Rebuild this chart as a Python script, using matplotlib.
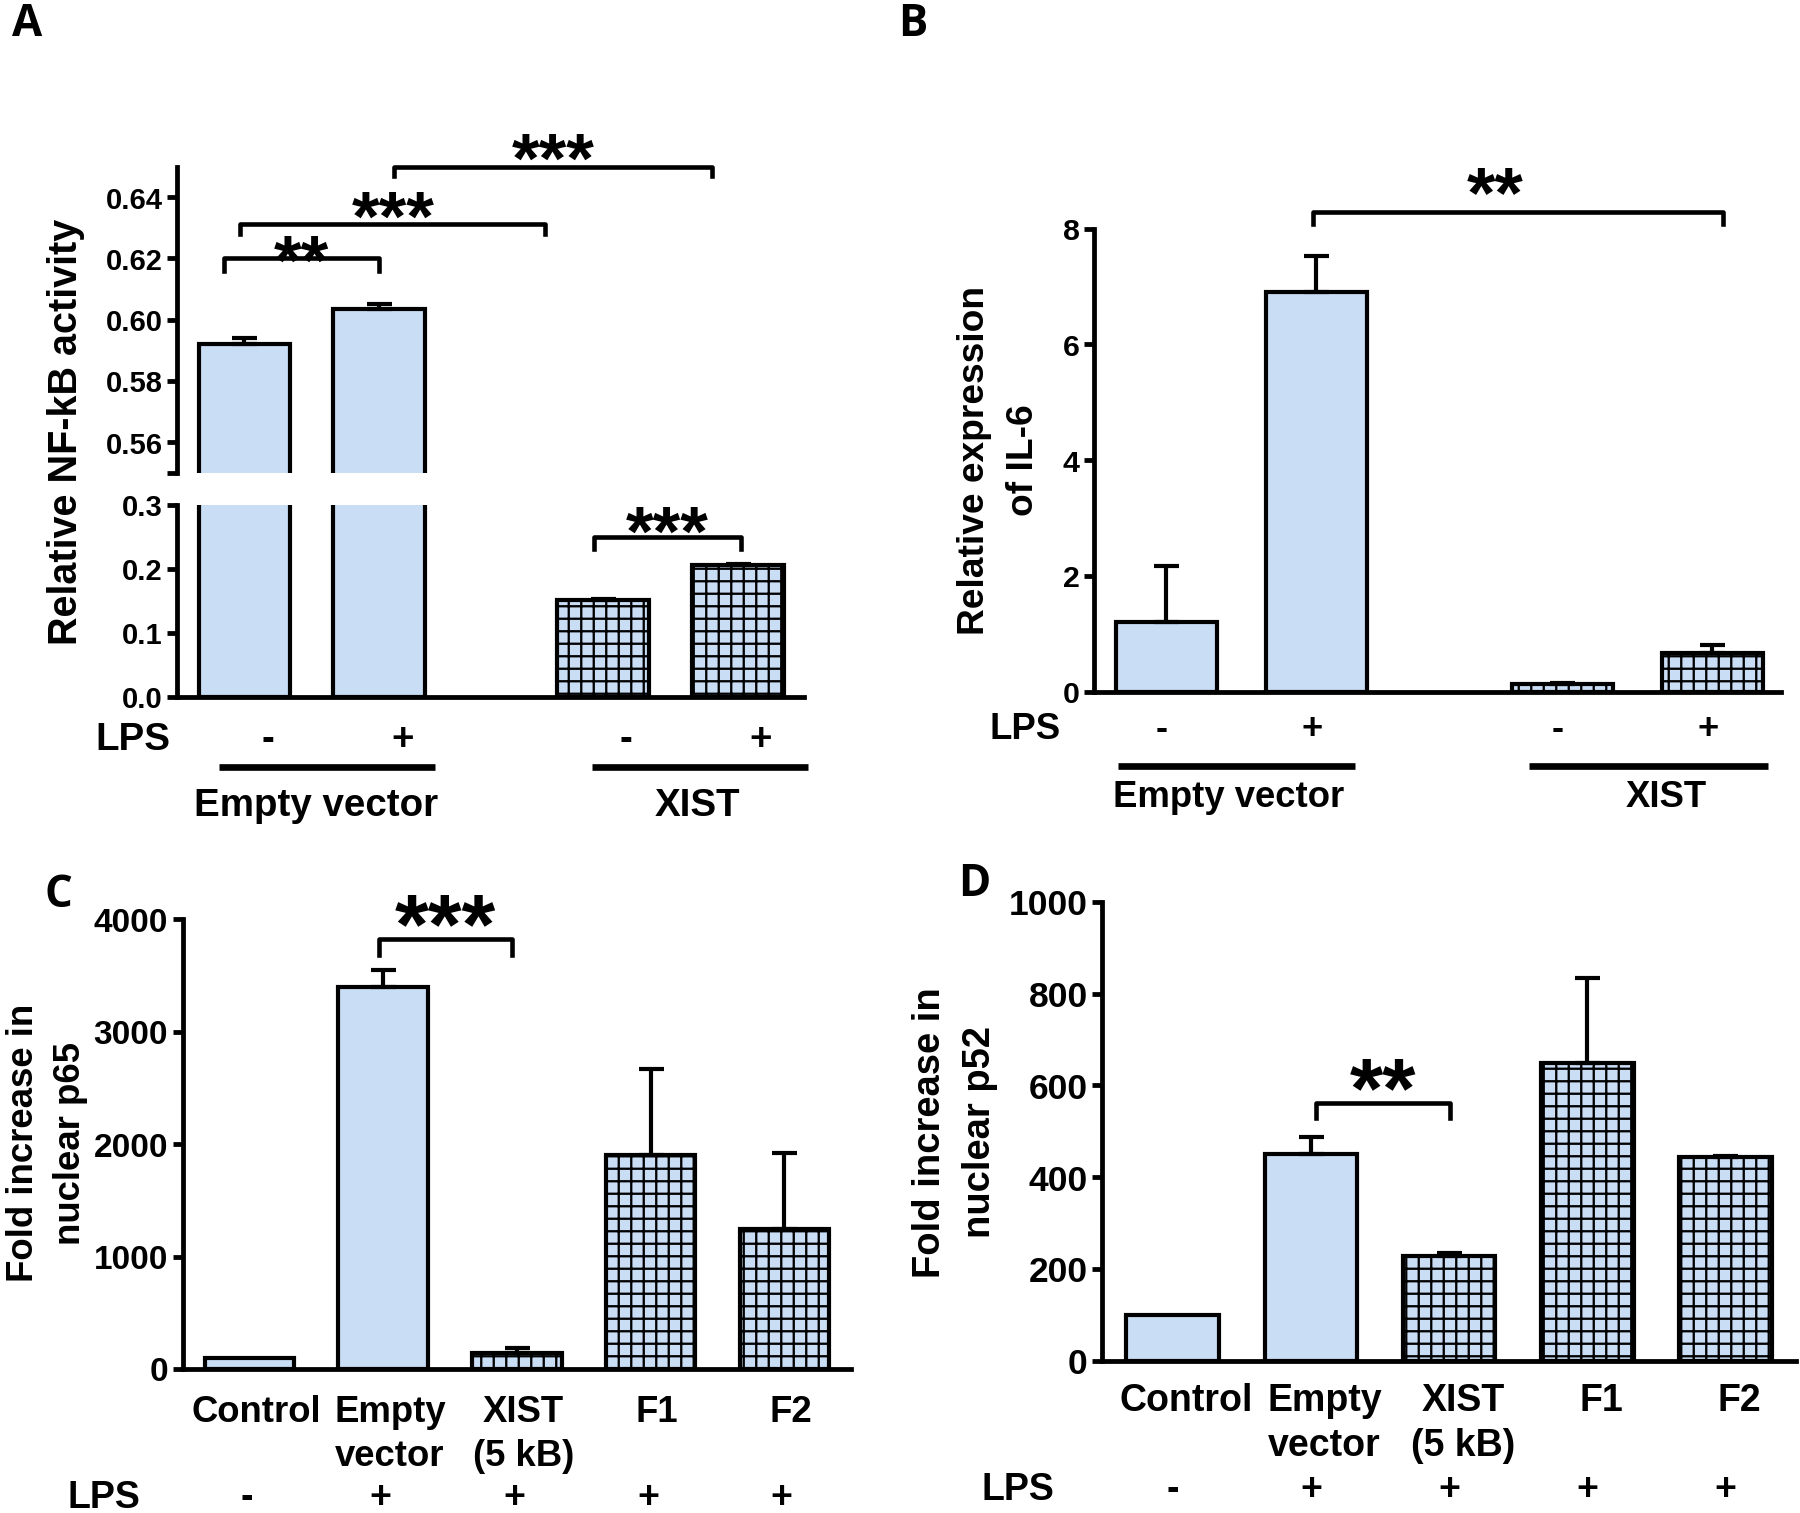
import numpy as np
import matplotlib
matplotlib.use('Agg')
import matplotlib.pyplot as plt
from matplotlib.transforms import blended_transform_factory

'''Fonts and global style'''
plt.rcParams['font.family'] = ['Liberation Sans', 'DejaVu Sans']
plt.rcParams['font.weight'] = 'bold'
plt.rcParams['hatch.linewidth'] = 1.1

W, H, DPI = 1800, 1513, 150
BLUE = '#c9ddf5'
LW = 2.0          # bar edge / error bar width (pt)
SPINE = 2.3

'''Panel A: NF-kB activity (broken axis)'''
a_pos = [0, 1, 2.66, 3.66]
a_vals = [0.592, 0.6035, 0.151, 0.2065]
a_err = [0.0021, 0.0017, 0.0012, 0.0012]
a_hatch = [False, False, True, True]
lps_ab = ['-', '+', '-', '+']
groups = ['Empty vector', 'XIST']

'''Panel B: IL-6 expression'''
b_pos = [0, 1, 2.64, 3.64]
b_vals = [1.2, 6.9, 0.14, 0.67]
b_err = [0.97, 0.63, 0.02, 0.14]
b_hatch = [False, False, True, True]

'''Panels C and D: nuclear p65 / p52'''
cd_pos = [0, 1, 2, 3, 4]
cd_labels = ['Control', 'Empty\nvector', 'XIST\n(5 kB)', 'F1', 'F2']
lps_cd = ['-', '+', '+', '+', '+']
cd_hatch = [False, False, True, True, True]
c_vals = [100, 3400, 140, 1905, 1245]
c_err = [0, 150, 45, 760, 680]
d_vals = [100, 450, 227, 650, 443]
d_err = [0, 37, 8, 185, 4]


def px_axes(left, top, right, bottom):
    '''Axes rectangle from pixel edges'''
    return fig.add_axes([left / W, 1 - bottom / H, (right - left) / W, (bottom - top) / H])


def draw_bars(ax, pos, vals, errs, hatch, width):
    for x, v, e, h in zip(pos, vals, errs, hatch):
        ax.bar(x, v, width, color=BLUE, edgecolor='black', linewidth=LW,
               hatch='++' if h else None, zorder=2)
        if e > 0:
            ax.errorbar(x, v, yerr=[[0], [e]], color='black', elinewidth=LW,
                        capsize=6, capthick=LW, zorder=3)


def style(ax, fs, bottom=True):
    for s in ['top', 'right']:
        ax.spines[s].set_visible(False)
    ax.spines['left'].set_linewidth(SPINE)
    ax.spines['bottom'].set_linewidth(SPINE)
    ax.spines['bottom'].set_visible(bottom)
    ax.tick_params(axis='y', width=SPINE, length=5, pad=2, labelsize=fs)
    ax.tick_params(axis='x', length=0, labelbottom=False)


def bracket(ax, x1, x2, y, leg, stars, fs, gap_px, tx=None):
    ax.plot([x1, x1, x2, x2], [y - leg, y, y, y - leg], color='black', lw=2.2,
            clip_on=False, zorder=4)
    tx = (x1 + x2) / 2 if tx is None else tx
    off = gap_px * 72 / DPI - 0.48 * fs
    ax.annotate(stars, xy=(tx, y), xytext=(0, off), textcoords='offset points',
                ha='center', va='baseline', fontsize=fs, fontweight='bold',
                annotation_clip=False)


def text_row(ax, xs, labels, y, fs, va='center', ls=1.2):
    tr = blended_transform_factory(ax.transData, ax.transAxes)
    for x, s in zip(xs, labels):
        ax.text(x, y, s, transform=tr, ha='center', va=va, fontsize=fs,
                fontweight='bold', linespacing=ls, clip_on=False)


def group_line(ax, x1, x2, y, lw=3.2):
    tr = blended_transform_factory(ax.transData, ax.transAxes)
    ax.plot([x1, x2], [y, y], color='black', lw=lw, transform=tr, clip_on=False,
            solid_capstyle='butt')


fig = plt.figure(figsize=((W + 0.4) / DPI, (H + 0.4) / DPI), dpi=DPI)

'''Panel A'''
axA_top = px_axes(177, 167, 804, 473)
axA_bot = px_axes(177, 505, 804, 697)
for ax in (axA_top, axA_bot):
    draw_bars(ax, a_pos, a_vals, a_err, a_hatch, 0.68)
    ax.set_xlim(-0.5, 4.15)
axA_top.set_ylim(0.55, 0.65)
axA_bot.set_ylim(0, 0.3)
style(axA_top, 14, bottom=False)
style(axA_bot, 14)
axA_top.set_yticks([0.55, 0.56, 0.58, 0.60, 0.62, 0.64])
axA_top.set_yticklabels(['', '0.56', '0.58', '0.60', '0.62', '0.64'])
axA_bot.set_yticks([0, 0.1, 0.2, 0.3])
axA_bot.set_yticklabels(['0.0', '0.1', '0.2', '0.3'])

bracket(axA_top, -0.15, 1.0, 0.62, 0.0042, '**', 34, 8)
bracket(axA_top, -0.03, 2.23, 0.6313, 0.0033, '***', 34, 18)
bracket(axA_top, 1.11, 3.47, 0.65, 0.0031, '***', 34, 18)
bracket(axA_bot, 2.59, 3.68, 0.25, 0.019, '***', 34, 15)

text_row(axA_bot, [-0.83], ['LPS'], -0.225, 18.5)
text_row(axA_bot, [p + 0.17 for p in a_pos], lps_ab, -0.225, 18.5)
group_line(axA_bot, -0.19, 1.41, -0.364)
group_line(axA_bot, 2.58, 4.18, -0.364)
text_row(axA_bot, [0.53, 3.36], groups, -0.566, 18.5)
fig.text(66 / W, 1 - 432 / H, 'Relative NF-kB activity', rotation=90,
         ha='center', va='center', fontsize=19, fontweight='bold')

'''Panel B'''
axB = px_axes(1094, 229, 1781, 692)
draw_bars(axB, b_pos, b_vals, b_err, b_hatch, 0.67)
axB.set_xlim(-0.48, 4.10)
axB.set_ylim(0, 8)
style(axB, 14.5)
axB.set_yticks([0, 2, 4, 6, 8])
bracket(axB, 0.977, 3.71, 8.29, 0.207, '**', 35, 30, tx=2.19)
text_row(axB, [-0.94], ['LPS'], -0.081, 17.5)
text_row(axB, [p - 0.03 for p in b_pos], lps_ab, -0.081, 17.5)
group_line(axB, -0.32, 1.26, -0.160)
group_line(axB, 2.42, 4.01, -0.160)
text_row(axB, [0.415, 3.33], groups, -0.228, 17.5)
fig.text(999 / W, 1 - 460 / H, 'Relative expression\nof IL-6', rotation=90,
         ha='center', va='center', fontsize=17.8, fontweight='bold',
         linespacing=1.5)

'''Panel C'''
axC = px_axes(182.5, 919.4, 851, 1369)
draw_bars(axC, cd_pos, c_vals, c_err, cd_hatch, 0.67)
axC.set_xlim(-0.5, 4.5)
axC.set_ylim(0, 4000)
style(axC, 16)
axC.set_yticks([0, 1000, 2000, 3000, 4000])
bracket(axC, 0.97, 1.96, 3820, 137, '***', 41.5, 28)
text_row(axC, [p + 0.05 for p in cd_pos], cd_labels, -0.058, 17.5, va='top', ls=1.32)
text_row(axC, [-1.09], ['LPS'], -0.285, 18)
text_row(axC, [p - 0.02 for p in cd_pos], lps_cd, -0.285, 18)
fig.text(47 / W, 1 - 1143 / H, 'Fold increase in\nnuclear p65', rotation=90,
         ha='center', va='center', fontsize=17.6, fontweight='bold',
         linespacing=1.42)

'''Panel D'''
axD = px_axes(1102, 902.2, 1795.5, 1360.6)
draw_bars(axD, cd_pos, d_vals, d_err, cd_hatch, 0.67)
axD.set_xlim(-0.51, 4.51)
axD.set_ylim(0, 1000)
style(axD, 17)
axD.set_yticks([0, 200, 400, 600, 800, 1000])
bracket(axD, 1.04, 2.01, 562, 33, '**', 41, 27)
text_row(axD, [p + 0.1 for p in cd_pos], cd_labels, -0.049, 18, va='top', ls=1.29)
text_row(axD, [-1.12], ['LPS'], -0.282, 18)
text_row(axD, cd_pos, lps_cd, -0.282, 18)
fig.text(955 / W, 1 - 1132 / H, 'Fold increase in\nnuclear p52', rotation=90,
         ha='center', va='center', fontsize=18.3, fontweight='bold',
         linespacing=1.5)

'''Panel letters'''
for lbl, x, y in [('A', 12, 2), ('B', 898, 2), ('C', 44, 873), ('D', 958, 862)]:
    fig.text(x / W, 1 - y / H, lbl, ha='left', va='top', fontsize=21,
             fontweight='bold', family=['Open Sans', 'DejaVu Sans'])

fig.savefig('out.png', dpi=DPI)
